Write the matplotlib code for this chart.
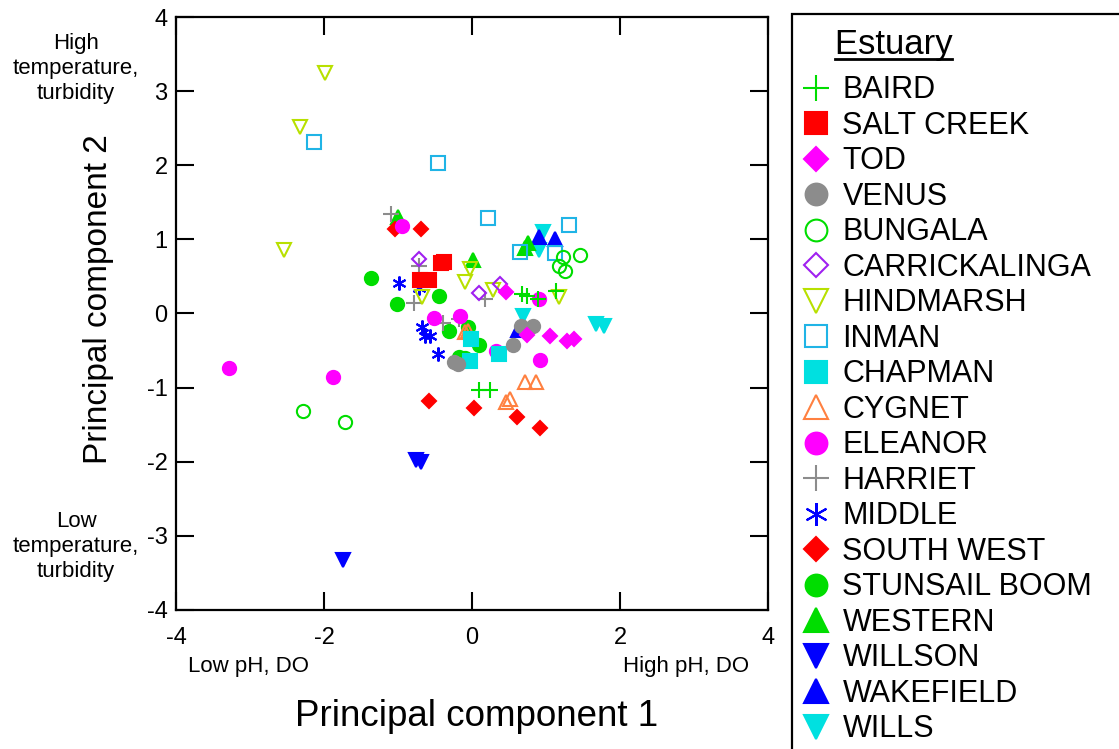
#!/usr/bin/env python3
# PCA scores of estuary water samples, one marker style per estuary
import matplotlib
matplotlib.use("Agg")
import matplotlib.pyplot as plt
from matplotlib.lines import Line2D

plt.rcParams["font.family"] = ["Liberation Sans", "DejaVu Sans"]
plt.rcParams["axes.unicode_minus"] = False

# estuary names, in legend order
estuaries = ["BAIRD", "SALT CREEK", "TOD", "VENUS", "BUNGALA", "CARRICKALINGA",
             "HINDMARSH", "INMAN", "CHAPMAN", "CYGNET", "ELEANOR", "HARRIET",
             "MIDDLE", "SOUTH WEST", "STUNSAIL BOOM", "WESTERN", "WILLSON",
             "WAKEFIELD", "WILLS"]

# principal component 1 scores
pc1 = {
    "BAIRD": [0.67, 0.74, 0.89, 1.14, 0.09, 0.25],
    "SALT CREEK": [-0.42, -0.38, -0.70, -0.58],
    "TOD": [0.46, 0.74, 1.05, 1.29, 1.38],
    "VENUS": [0.66, 0.82, 0.56, -0.24, -0.19],
    "BUNGALA": [1.23, 1.46, 1.18, 1.26, -2.29, -1.72],
    "CARRICKALINGA": [-0.72, 0.09, 0.38],
    "HINDMARSH": [-1.98, -2.32, -2.54, -0.03, -0.09, -0.67, 0.29, 1.18],
    "INMAN": [-2.14, -0.46, 0.22, 0.65, 1.12, 1.31],
    "CHAPMAN": [-0.02, -0.03, 0.37],
    "CYGNET": [-0.09, -0.05, 0.72, 0.87, 0.46, 0.51],
    "ELEANOR": [-0.94, -0.51, -0.16, 0.32, 0.92, 0.90, -3.28, -1.88],
    "HARRIET": [-1.09, -0.72, -0.79, 0.17, -0.39, -0.17],
    "MIDDLE": [-0.99, -0.72, -0.68, -0.64, -0.57, -0.46],
    "SOUTH WEST": [-1.04, -0.69, -0.58, 0.03, 0.61, 0.92],
    "STUNSAIL BOOM": [-1.37, -1.01, -0.44, -0.31, 0.10, -0.18, -0.09, -0.05],
    "WESTERN": [-1.00, 0.01, 0.76, 0.71],
    "WILLSON": [-0.75, -0.69, -1.74],
    "WAKEFIELD": [0.90, 1.12, 0.62],
    "WILLS": [0.96, 0.91, 0.69, 1.68, 1.79],
}

# principal component 2 scores
pc2 = {
    "BAIRD": [0.26, 0.24, 0.19, 0.30, -1.03, -1.03],
    "SALT CREEK": [0.68, 0.70, 0.45, 0.45],
    "TOD": [0.29, -0.29, -0.31, -0.37, -0.35],
    "VENUS": [-0.17, -0.17, -0.43, -0.66, -0.68],
    "BUNGALA": [0.76, 0.79, 0.64, 0.57, -1.32, -1.47],
    "CARRICKALINGA": [0.73, 0.27, 0.40],
    "HINDMARSH": [3.25, 2.52, 0.85, 0.60, 0.43, 0.22, 0.32, 0.22],
    "INMAN": [2.32, 2.03, 1.29, 0.83, 0.81, 1.20],
    "CHAPMAN": [-0.35, -0.64, -0.54],
    "CYGNET": [-0.25, -0.23, -0.93, -0.92, -1.20, -1.16],
    "ELEANOR": [1.18, -0.06, -0.03, -0.50, -0.63, 0.19, -0.73, -0.86],
    "HARRIET": [1.34, 0.64, 0.14, 0.19, -0.13, -0.07],
    "MIDDLE": [0.41, 0.35, -0.18, -0.31, -0.31, -0.55],
    "SOUTH WEST": [1.14, 1.14, -1.18, -1.27, -1.39, -1.55],
    "STUNSAIL BOOM": [0.48, 0.13, 0.23, -0.23, -0.42, -0.59, -0.60, -0.18],
    "WESTERN": [1.30, 0.72, 0.95, 0.88],
    "WILLSON": [-1.98, -2.01, -3.32],
    "WAKEFIELD": [1.03, 1.01, -0.22],
    "WILLS": [1.10, 0.85, -0.03, -0.14, -0.17],
}

# marker, colour, filled?
styles = {
    "BAIRD": ("+", "#00dd00", True),
    "SALT CREEK": ("s", "#ff0000", True),
    "TOD": ("D", "#ff00ff", True),
    "VENUS": ("o", "#8c8c8c", True),
    "BUNGALA": ("o", "#00dd00", False),
    "CARRICKALINGA": ("D", "#a020f0", False),
    "HINDMARSH": ("v", "#b8e000", False),
    "INMAN": ("s", "#20b4e6", False),
    "CHAPMAN": ("s", "#00e0e0", True),
    "CYGNET": ("^", "#ff8040", False),
    "ELEANOR": ("o", "#ff00ff", True),
    "HARRIET": ("+", "#8c8c8c", True),
    "MIDDLE": ((6, 2, 0), "#0000ff", True),
    "SOUTH WEST": ("D", "#ff0000", True),
    "STUNSAIL BOOM": ("o", "#00dd00", True),
    "WESTERN": ("^", "#00dd00", True),
    "WILLSON": ("v", "#0000ff", True),
    "WAKEFIELD": ("^", "#0000ff", True),
    "WILLS": ("v", "#00e0e0", True),
}
sizes = {"+": 11, "s": 10, "D": 7.2, "o": 9.5, "v": 10.5, "^": 10.5}


def marker_kw(name, scale=1.0):
    m, c, filled = styles[name]
    ms = sizes.get(m, 10) if isinstance(m, str) else 10
    return dict(marker=m, linestyle="none", markersize=ms * scale,
                markerfacecolor=c if filled else "none",
                markeredgecolor=c, markeredgewidth=1.5)


fig = plt.figure(figsize=(11.19, 7.49), dpi=100)
ax = fig.add_axes([0.1573, 0.1856, 0.529, 0.7917])

# later entries first, so the first estuaries sit on top
for name in reversed(estuaries):
    ax.plot(pc1[name], pc2[name], **marker_kw(name))

ax.set_xlim(-4, 4)
ax.set_ylim(-4, 4)
ax.set_xticks([-4, -2, 0, 2, 4])
ax.set_yticks(range(-4, 5))
ax.tick_params(direction="in", length=13, width=1.5, top=True, right=True,
               labelsize=17, colors="black")
ax.tick_params(axis="x", pad=12)
ax.tick_params(axis="y", pad=6)
for sp in ax.spines.values():
    sp.set_linewidth(1.6)

ax.set_xlabel("Principal component 1", fontsize=26.5)
ax.set_ylabel("Principal component 2", fontsize=24)
ax.xaxis.set_label_coords(0.507, -0.15)
ax.yaxis.set_label_coords(-0.105, 0.525)

# extreme labels for each component
fig.text(0.068, 0.908, "High\ntemperature,\nturbidity", fontsize=16,
         ha="center", va="center", linespacing=1.25)
fig.text(0.068, 0.271, "Low\ntemperature,\nturbidity", fontsize=16,
         ha="center", va="center", linespacing=1.25)
fig.text(0.2225, 0.1095, "Low pH, DO", fontsize=16, ha="center", va="center")
fig.text(0.613, 0.1095, "High pH, DO", fontsize=16, ha="center", va="center")

# legend, running off the right and bottom edge like the original
handles = [Line2D([], [], **marker_kw(n, 1.65)) for n in estuaries]
leg = ax.legend(handles, estuaries, loc="upper left",
                bbox_to_anchor=(792 / 1119, 0, 340 / 1119, 1 - 14 / 749),
                bbox_transform=fig.transFigure, borderaxespad=0, mode="expand",
                fontsize=22, title="   Estuary", title_fontsize=25,
                alignment="left", frameon=True, fancybox=False,
                edgecolor="black", framealpha=1, borderpad=0.45,
                handlelength=0.67, handletextpad=0.53, labelspacing=0.18)
leg.get_frame().set_linewidth(1.6)
# a bit more room between the title and the first entry
leg._legend_box.sep += 6.5

# underline the legend title
fig.canvas.draw()
renderer = fig.canvas.get_renderer()
tb = leg.get_title().get_window_extent(renderer)
probe = fig.text(0, 0, "Estuary", fontsize=25)
w = probe.get_window_extent(renderer).width
probe.remove()
fig.add_artist(Line2D([tb.x1 - w, tb.x1], [tb.y0 + 2, tb.y0 + 2],
                      transform=None, color="black", linewidth=2))

fig.savefig("out.png", dpi=100)
plt.close(fig)
